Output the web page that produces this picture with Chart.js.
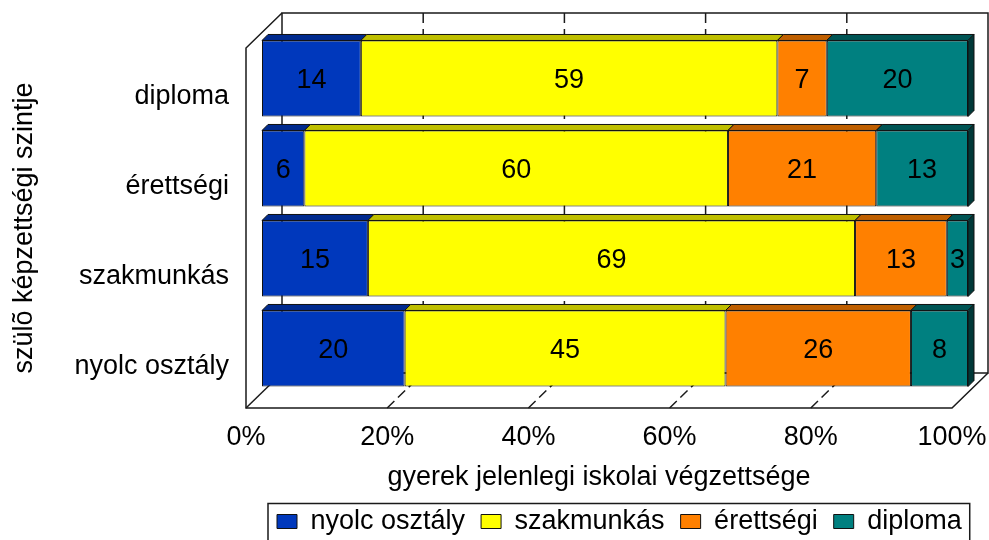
<!DOCTYPE html>
<html>
<head>
<meta charset="utf-8">
<script src="https://cdn.jsdelivr.net/npm/chart.js@4.4.1/dist/chart.umd.min.js"></script>
<style>
  html, body { margin: 0; padding: 0; background: #ffffff; }
  #c { display: block; }
</style>
</head>
<body>
<canvas id="c" width="989" height="540"></canvas>
<script>
// ---- data ----
const categories = ['diploma', 'érettségi', 'szakmunkás', 'nyolc osztály'];
const seriesNames = ['nyolc osztály', 'szakmunkás', 'érettségi', 'diploma'];
const nyolcOsztaly = [14, 6, 15, 20];
const szakmunkas = [59, 60, 69, 45];
const erettsegi = [7, 21, 13, 26];
const diplomaVals = [20, 13, 3, 8];
const xTickLabels = ['0%', '20%', '40%', '60%', '80%', '100%'];
const xTitle = 'gyerek jelenlegi iskolai végzettsége';
const yTitle = 'szülõ képzettségi szintje';

// 100% stacked: each row is shown as share of its total
const raw = [nyolcOsztaly, szakmunkas, erettsegi, diplomaVals];
const rowSums = categories.map((_, j) => raw.reduce((s, a) => s + a[j], 0));
const shares = raw.map(a => a.map((v, j) => v / rowSums[j] * 100));

// ---- style ----
const FONT = "'Liberation Sans', Arial, sans-serif";
const faceColors = ['#0038BC', '#FFFF00', '#FF8000', '#008080'];
const topColors  = ['#002A8E', '#BFBF00', '#BF5F00', '#005555'];
const sideColors = ['#001E66', '#8C8C00', '#8C4600', '#003838'];
const BACK = { dx: 36, dy: -35 };
const BAR = { dx: 16, dy: -14.5 };
const DEPTH = 6;
const LEGEND_LEFT = 277;
const LEGEND_DY = 5;

function seg(ctx, x1, y1, x2, y2) {
  ctx.beginPath(); ctx.moveTo(x1, y1); ctx.lineTo(x2, y2); ctx.stroke();
}

const frame3d = {
  id: 'frame3d',
  afterLayout(chart) {
    const lg = chart.legend;
    if (!lg || !lg.lineWidths) return;
    const pad = lg.options.labels.padding;
    const startX = (lg.left + pad + lg.right - lg.lineWidths[0]) / 2;
    const dx = LEGEND_LEFT - startX;
    lg.left += dx; lg.right += dx;
    lg.top += LEGEND_DY; lg.bottom += LEGEND_DY;
  },
  beforeDatasetsDraw(chart) {
    const { ctx, chartArea: a, scales: { x } } = chart;
    const L = a.left, R = a.right, T = a.top, B = a.bottom;
    const bx = BACK.dx, by = BACK.dy;
    const ticks = x.ticks.map(t => t.value);
    ctx.save();
    ctx.strokeStyle = '#1a1a1a';
    ctx.lineWidth = 1.5;
    // back wall
    ctx.strokeRect(L + bx, T + by, R - L, B - T);
    // dashed gridlines on back wall and floor
    ctx.setLineDash([10, 6]);
    ticks.forEach(v => {
      if (v <= 0 || v >= 100) return;
      const px = x.getPixelForValue(v);
      seg(ctx, px + bx, T + by, px + bx, B + by);
    });
    ctx.setLineDash([10, 5]);
    ticks.forEach(v => {
      if (v <= 0 || v >= 100) return;
      const px = x.getPixelForValue(v);
      seg(ctx, px, B, px + bx, B + by);
    });
    ctx.setLineDash([]);
    // left wall and floor outer edges
    ctx.beginPath();
    ctx.moveTo(L + bx, T + by);
    ctx.lineTo(L, T);
    ctx.lineTo(L, B);
    ctx.lineTo(R, B);
    ctx.lineTo(R + bx, B + by);
    ctx.stroke();
    seg(ctx, L, B, L + bx, B + by);
    ctx.restore();
    // bars sit at a middle depth
    ctx.save();
    ctx.translate(BAR.dx, BAR.dy);
  },
  afterDatasetsDraw(chart) {
    const ctx = chart.ctx;
    const n = chart.data.datasets.length;
    ctx.lineWidth = 1;
    ctx.strokeStyle = '#111';
    for (let i = 0; i < n; i++) {
      const meta = chart.getDatasetMeta(i);
      meta.data.forEach((el) => {
        const p = el.getProps(['x', 'y', 'base', 'height'], true);
        const x1 = Math.min(p.x, p.base), x2 = Math.max(p.x, p.base);
        const yt = p.y - p.height / 2, yb = p.y + p.height / 2;
        ctx.beginPath();
        ctx.moveTo(x1, yt); ctx.lineTo(x1 + DEPTH, yt - DEPTH);
        ctx.lineTo(x2 + DEPTH, yt - DEPTH); ctx.lineTo(x2, yt); ctx.closePath();
        ctx.fillStyle = topColors[i]; ctx.fill(); ctx.stroke();
        if (i === n - 1) {
          ctx.beginPath();
          ctx.moveTo(x2, yt); ctx.lineTo(x2 + DEPTH, yt - DEPTH);
          ctx.lineTo(x2 + DEPTH, yb - DEPTH); ctx.lineTo(x2, yb); ctx.closePath();
          ctx.fillStyle = sideColors[i]; ctx.fill(); ctx.stroke();
        }
      });
    }
    // value labels
    ctx.fillStyle = '#000';
    ctx.font = '27px ' + FONT;
    ctx.textAlign = 'center';
    ctx.textBaseline = 'middle';
    for (let i = 0; i < n; i++) {
      const meta = chart.getDatasetMeta(i);
      meta.data.forEach((el, j) => {
        const p = el.getProps(['x', 'y', 'base'], true);
        ctx.fillText(String(raw[i][j]), (p.x + p.base) / 2, p.y + 2);
      });
    }
    ctx.restore();
  },
  afterDraw(chart) {
    const lg = chart.legend;
    if (!lg || !lg.legendHitBoxes || !lg.legendHitBoxes.length) return;
    const hb = lg.legendHitBoxes;
    const last = hb[hb.length - 1];
    const ctx = chart.ctx;
    const left = hb[0].left - 9;
    const right = last.left + last.width + 8;
    const top = hb[0].top + hb[0].height / 2 - 18;
    ctx.save();
    ctx.strokeStyle = '#1a1a1a';
    ctx.lineWidth = 1.5;
    ctx.strokeRect(left, top, right - left, 560 - top);
    ctx.restore();
  }
};

new Chart(document.getElementById('c'), {
  type: 'bar',
  data: {
    labels: categories,
    datasets: seriesNames.map((name, i) => ({
      label: name,
      data: shares[i],
      backgroundColor: faceColors[i],
      borderColor: '#111',
      borderWidth: 1,
      borderSkipped: false,
      barPercentage: 0.845,
      categoryPercentage: 1,
      clip: false
    }))
  },
  options: {
    indexAxis: 'y',
    responsive: false,
    animation: false,
    devicePixelRatio: 1,
    layout: { padding: { top: 48, right: 37, bottom: 0, left: 0 } },
    plugins: {
      legend: {
        position: 'bottom',
        labels: {
          color: '#000',
          font: { family: FONT, size: 27 },
          boxWidth: 20,
          boxHeight: 14,
          padding: 16
        }
      },
      tooltip: { enabled: false }
    },
    scales: {
      x: {
        type: 'linear',
        stacked: true,
        min: 0,
        max: 100,
        grid: { display: false, drawTicks: false },
        border: { display: false },
        ticks: {
          stepSize: 20,
          padding: 13,
          color: '#000',
          font: { family: FONT, size: 27 },
          callback: (v, i) => xTickLabels[i]
        },
        title: {
          display: true,
          text: xTitle,
          color: '#000',
          font: { family: FONT, size: 27, lineHeight: 0.7 },
          padding: { top: 0, bottom: 0 }
        },
        afterFit(s) {
          const lg = s.chart.legend;
          s.height = 540 - 408 - (lg ? lg.height : 0);
          s.paddingLeft = 0;
          s.paddingRight = 0;
        }
      },
      y: {
        type: 'category',
        stacked: true,
        grid: { display: false, drawTicks: false },
        border: { display: false },
        ticks: {
          padding: 17,
          labelOffset: 4,
          color: '#000',
          font: { family: FONT, size: 27 }
        },
        title: {
          display: true,
          text: yTitle,
          color: '#000',
          font: { family: FONT, size: 27, lineHeight: 0.9 },
          padding: { top: 12, bottom: 0 }
        },
        afterFit(s) {
          s.width = 246;
          s.paddingTop = 0;
          s.paddingBottom = 0;
        }
      }
    }
  },
  plugins: [frame3d]
});
</script>
</body>
</html>
